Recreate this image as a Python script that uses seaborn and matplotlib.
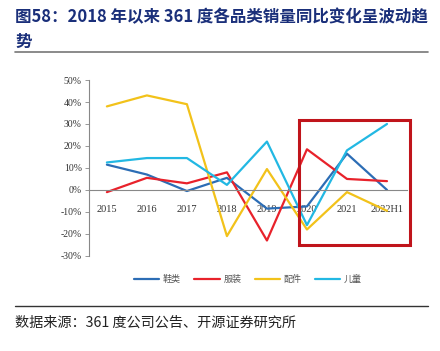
import pandas as pd
import seaborn as sns
import matplotlib.pyplot as plt
from matplotlib.patches import Rectangle

years = ['2015', '2016', '2017', '2018', '2019', '2020', '2021', '2022H1']
shoes = [11.5, 7, -0.5, 5.5, -8.5, -7.5, 16.5, 0]
apparel = [-1, 5.5, 3, 8, -23, 18.5, 5, 4]
accessories = [38, 43, 39, -21, 9.5, -18, -1, -9.5]
kids = [12.5, 14.5, 14.5, 2.3, 22, -16, 18, 30]
series_names = ['鞋类', '服装', '配件', '儿童']
colors = ['#2C6DB5', '#E8222B', '#F2C21A', '#22B8E3']

df = pd.DataFrame({'year': years, '鞋类': shoes, '服装': apparel, '配件': accessories, '儿童': kids})
long_df = df.melt(id_vars='year', var_name='品类', value_name='yoy')
long_df['x'] = long_df['year'].map({y: i for i, y in enumerate(years)})

sns.set_style('white')
plt.rcParams['font.family'] = ['Noto Sans CJK SC', 'DejaVu Sans']

fig = plt.figure(figsize=(4.4, 3.51), dpi=100)
ax = fig.add_axes([0.202, 0.271, 0.723, 0.501])

sns.lineplot(data=long_df, x='x', y='yoy', hue='品类', hue_order=series_names,
             palette=colors, linewidth=1.6, ax=ax, legend=True)

# spine position first: it resets tick properties
for s in ['top', 'right']:
    ax.spines[s].set_visible(False)
ax.spines['bottom'].set_position(('data', 0))
ax.spines['bottom'].set_color('#888888')
ax.spines['left'].set_color('#888888')
ax.spines['bottom'].set_linewidth(0.8)
ax.spines['left'].set_linewidth(0.8)

ax.set_xlim(-0.45, 7.5)
ax.set_ylim(-30, 50)
ax.set_yticks(range(-30, 51, 10))
ax.set_yticklabels([f'{v}%' for v in range(-30, 51, 10)], family='Liberation Serif',
                   fontsize=7, color='#333333')
ax.set_xticks(range(len(years)))
ax.set_xticklabels(years, family='Liberation Serif', fontsize=7.5, color='#333333')
ax.set_xlabel('')
ax.set_ylabel('')
ax.tick_params(axis='y', length=3, width=0.6, color='#888888', pad=2, left=True)
ax.tick_params(axis='x', length=0, pad=11)

# highlight box
ax.add_patch(Rectangle((4.8, -25), 2.78, 57, fill=False, edgecolor='#C0141B',
                       linewidth=2.2, clip_on=False, zorder=5))

handles, labels = ax.get_legend_handles_labels()
ax.legend(handles, labels, loc='upper center', bbox_to_anchor=(0.5, -0.06), ncol=4,
          frameon=False, fontsize=6.5, handlelength=2.8, columnspacing=1.5,
          handletextpad=0.4, labelcolor='#555555')

fig.text(0.035, 0.915, '图58：2018 年以来 361 度各品类销量同比变化呈波动趋\n势',
         fontsize=11.9, fontweight='bold', color='#1A2F7A', va='center', linespacing=1.5)
fig.add_artist(plt.Line2D([0.035, 0.972], [0.852, 0.852], color='#777777', linewidth=1.2))
fig.add_artist(plt.Line2D([0.035, 0.972], [0.128, 0.128], color='#333333', linewidth=1.0))
fig.text(0.035, 0.08, '数据来源：361 度公司公告、开源证券研究所', fontsize=10.2,
         color='#222222', va='center')

fig.savefig('out.png', dpi=100)
